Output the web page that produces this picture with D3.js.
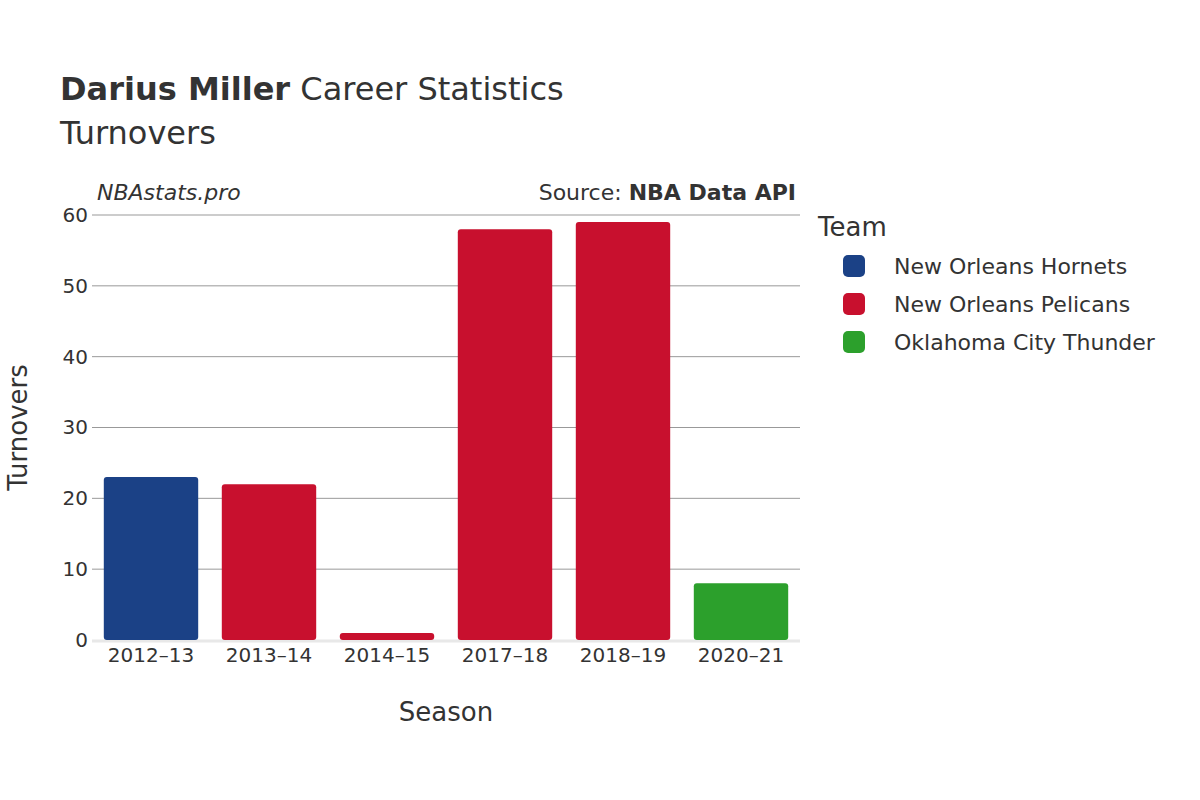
<!DOCTYPE html>
<html><head><meta charset="utf-8">
<script src="https://cdn.jsdelivr.net/npm/d3@7"></script>
<style>body{margin:0;background:#fff}text{font-family:"DejaVu Sans",sans-serif;fill:#333}</style>
</head><body><svg width="1200" height="800"></svg>
<script>
var seasons = ["2012\u201313","2013\u201314","2014\u201315","2017\u201318","2018\u201319","2020\u201321"];
var turnovers = [23, 22, 1, 58, 59, 8];
var teams = ["New Orleans Hornets","New Orleans Pelicans","New Orleans Pelicans","New Orleans Pelicans","New Orleans Pelicans","Oklahoma City Thunder"];
var legendTeams = ["New Orleans Hornets","New Orleans Pelicans","Oklahoma City Thunder"];
var teamColors = ["#1b4186","#c8102e","#2ca02c"];
var yTicks = [0,10,20,30,40,50,60];

var margin = {top: 215, bottom: 160, left: 92, right: 400};
var width = 1200, height = 800;
var svg = d3.select("svg");
var color = d3.scaleOrdinal().domain(legendTeams).range(teamColors);

var x = d3.scaleBand().domain(seasons).range([margin.left, width - margin.right]).paddingInner(0.2).paddingOuter(0.1);
var y = d3.scaleLinear().domain([0, 60]).range([height - margin.bottom, margin.top]);

// grid
svg.append("g").selectAll("line").data(yTicks.slice(1)).enter().append("line")
  .attr("x1", margin.left).attr("x2", width - margin.right)
  .attr("y1", d => y(d)).attr("y2", d => y(d))
  .attr("stroke", "#999").attr("stroke-width", 1);
svg.append("line").attr("x1", margin.left).attr("x2", width - margin.right)
  .attr("y1", y(0) + 1).attr("y2", y(0) + 1).attr("stroke", "#e8e8e8").attr("stroke-width", 3);

// bars
svg.append("g").selectAll("rect").data(seasons).enter().append("rect")
  .attr("x", d => x(d)).attr("width", x.bandwidth())
  .attr("y", (d, i) => y(turnovers[i])).attr("height", (d, i) => y(0) - y(turnovers[i]))
  .attr("rx", 3).attr("fill", (d, i) => color(teams[i]));

// axes
var yAxis = svg.append("g").attr("transform", "translate(" + margin.left + ",0)")
  .call(d3.axisLeft(y).tickValues(yTicks).tickSize(0).tickPadding(4));
yAxis.select(".domain").remove();
yAxis.selectAll("text").attr("font-size", 20).style("fill", "#333");
var xAxis = svg.append("g").attr("transform", "translate(0," + y(0) + ")")
  .call(d3.axisBottom(x).tickSize(0).tickPadding(8));
xAxis.select(".domain").remove();
xAxis.selectAll("text").attr("font-size", 20).style("fill", "#333");

// titles
var t = svg.append("text").attr("x", 60).attr("y", 100).attr("font-size", 32);
t.append("tspan").attr("font-weight", "bold").text("Darius Miller");
t.append("tspan").text(" Career Statistics");
svg.append("text").attr("x", 60).attr("y", 144).attr("font-size", 32).text("Turnovers");
svg.append("text").attr("x", 97).attr("y", 200).attr("font-size", 22).attr("font-style", "italic").text("NBAstats.pro");
var s = svg.append("text").attr("x", 796).attr("y", 200).attr("font-size", 22).attr("text-anchor", "end");
s.append("tspan").text("Source: ");
s.append("tspan").attr("font-weight", "bold").text("NBA Data API");
svg.append("text").attr("x", 446).attr("y", 721).attr("font-size", 26).attr("text-anchor", "middle").text("Season");
svg.append("text").attr("transform", "translate(27," + ((margin.top + height - margin.bottom) / 2) + ") rotate(-90)")
  .attr("font-size", 26).attr("text-anchor", "middle").text("Turnovers");

// legend
svg.append("text").attr("x", 818).attr("y", 236).attr("font-size", 26).text("Team");
var lg = svg.append("g").selectAll("g").data(legendTeams).enter().append("g")
  .attr("transform", (d, i) => "translate(843," + (266 + i * 38) + ")");
lg.append("rect").attr("x", 0).attr("y", -11).attr("width", 22).attr("height", 22).attr("rx", 5).attr("fill", d => color(d));
lg.append("text").attr("x", 51).attr("y", 8).attr("font-size", 22).text(d => d);
</script></body></html>
